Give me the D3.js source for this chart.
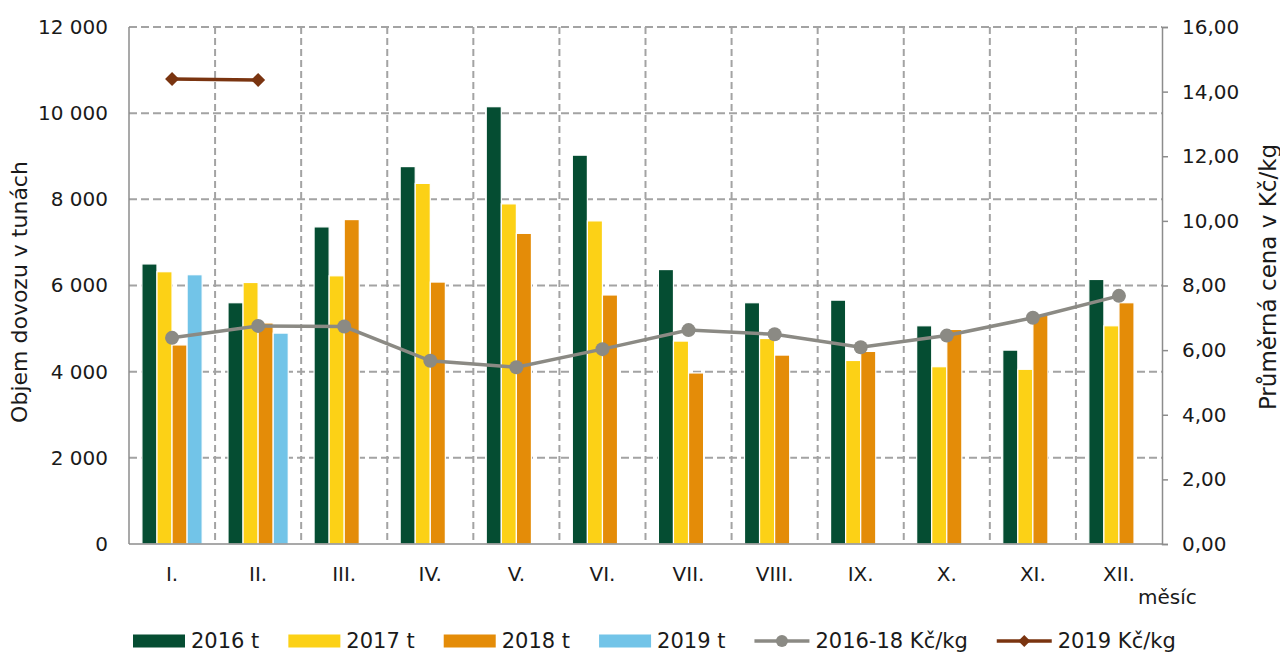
<!DOCTYPE html>
<html>
<head>
<meta charset="utf-8">
<script src="https://cdn.jsdelivr.net/npm/d3@7"></script>
<style>
  html, body { margin: 0; padding: 0; background: #fff; }
  svg { display: block; font-family: "DejaVu Sans", Verdana, sans-serif; }
</style>
</head>
<body>
<svg id="chart" width="1280" height="653"></svg>
<script>
// --- data ---
const months = ["I.", "II.", "III.", "IV.", "V.", "VI.", "VII.", "VIII.", "IX.", "X.", "XI.", "XII."];
const seriesNames = ["2016 t", "2017 t", "2018 t", "2019 t"];
const t2016 = [6500, 5600, 7360, 8760, 10150, 9025, 6370, 5600, 5660, 5065, 4500, 6140];
const t2017 = [6320, 6070, 6225, 8370, 7895, 7500, 4710, 4770, 4260, 4115, 4055, 5065];
const t2018 = [4620, 5130, 7530, 6080, 7210, 5780, 3970, 4385, 4470, 4980, 5310, 5600];
const t2019 = [6250, 4895, null, null, null, null, null, null, null, null, null, null];
const price1618 = [6.38, 6.75, 6.73, 5.67, 5.47, 6.03, 6.62, 6.49, 6.09, 6.45, 7.00, 7.68];
const price2019 = [14.39, 14.36];
const leftTicks = [0, 2000, 4000, 6000, 8000, 10000, 12000];
const rightTicks = [0, 2, 4, 6, 8, 10, 12, 14, 16];

// --- look ---
const colors = { "2016 t": "#054d32", "2017 t": "#fcd116", "2018 t": "#e48c08", "2019 t": "#72c4e8" };
const greyLine = "#8b8a84";
const brownLine = "#7a3410";
const gridColor = "#a3a3a3";
const axisColor = "#8c8c8c";
const textColor = "#1a1a1a";

const plot = { left: 129, right: 1162, top: 27, bottom: 544 };

const svg = d3.select("#chart");

const csLocale = d3.formatLocale({ decimal: ",", thousands: "\u00a0", grouping: [3], currency: ["", ""] });
const fmtLeft = csLocale.format(",.0f");
const fmtRight = csLocale.format(".2f");

// --- scales ---
const x0 = d3.scaleBand()
    .domain(months)
    .range([plot.left, plot.right])
    .paddingInner(0.3)
    .paddingOuter(0.15);

const x1 = d3.scaleBand()
    .domain(seriesNames)
    .range([0, x0.bandwidth()]);

const yL = d3.scaleLinear().domain([0, 12000]).range([plot.bottom, plot.top]);
const yR = d3.scaleLinear().domain([0, 16]).range([plot.bottom, plot.top]);

const step = x0.step();
const boundary = i => plot.left + i * step;

// --- grid ---
const grid = svg.append("g").attr("class", "grid");

grid.selectAll(".hgrid")
    .data(leftTicks.filter(d => d > 0))
    .enter()
    .append("line")
    .attr("x1", plot.left).attr("x2", plot.right)
    .attr("y1", d => yL(d)).attr("y2", d => yL(d))
    .attr("stroke", gridColor)
    .attr("stroke-width", 2)
    .attr("stroke-dasharray", "8,4");

grid.selectAll(".vgrid")
    .data(d3.range(1, months.length))
    .enter()
    .append("line")
    .attr("x1", i => boundary(i)).attr("x2", i => boundary(i))
    .attr("y1", plot.top).attr("y2", plot.bottom)
    .attr("stroke", gridColor)
    .attr("stroke-width", 2)
    .attr("stroke-dasharray", "7,4");

// --- bars ---
const rows = months.map((m, i) => ({
    month: m,
    values: [t2016[i], t2017[i], t2018[i], t2019[i]]
}));

const groups = svg.append("g").attr("class", "bars")
    .selectAll("g")
    .data(rows)
    .enter()
    .append("g")
    .attr("transform", d => `translate(${x0(d.month)},0)`);

groups.selectAll("rect")
    .data(d => d.values.map((v, k) => ({ key: seriesNames[k], value: v })).filter(d => d.value != null))
    .enter()
    .append("rect")
    .attr("x", d => x1(d.key))
    .attr("y", d => yL(d.value))
    .attr("width", x1.bandwidth())
    .attr("height", d => plot.bottom - yL(d.value))
    .attr("fill", d => colors[d.key])
    .attr("stroke", "#fff")
    .attr("stroke-width", 1.2);

// --- axes lines ---
const axes = svg.append("g").attr("class", "axes");

axes.append("line")
    .attr("x1", plot.left).attr("x2", plot.left)
    .attr("y1", plot.top).attr("y2", plot.bottom)
    .attr("stroke", axisColor).attr("stroke-width", 1.5);

axes.append("line")
    .attr("x1", plot.left).attr("x2", plot.right)
    .attr("y1", plot.bottom).attr("y2", plot.bottom)
    .attr("stroke", axisColor).attr("stroke-width", 1.5);

// right axis with outward ticks
const rightAxis = svg.append("g")
    .attr("transform", `translate(${plot.right},0)`)
    .call(d3.axisRight(yR).tickValues(rightTicks).tickFormat(fmtRight).tickSize(6).tickPadding(14));
rightAxis.select(".domain").attr("stroke", axisColor).attr("stroke-width", 1.5);
rightAxis.selectAll(".tick line").attr("stroke", axisColor).attr("stroke-width", 1.5);
rightAxis.selectAll(".tick text")
    .attr("fill", textColor)
    .style("font-size", "20px")
    .style("font-family", "'DejaVu Sans', Verdana, sans-serif");

// left tick labels
const leftAxis = svg.append("g")
    .attr("transform", `translate(${plot.left},0)`)
    .call(d3.axisLeft(yL).tickValues(leftTicks).tickFormat(fmtLeft).tickSize(0).tickPadding(21));
leftAxis.select(".domain").remove();
leftAxis.selectAll(".tick text")
    .attr("fill", textColor)
    .style("font-size", "20px")
    .style("font-family", "'DejaVu Sans', Verdana, sans-serif");

// month labels
const bottomAxis = svg.append("g")
    .attr("transform", `translate(0,${plot.bottom})`)
    .call(d3.axisBottom(x0).tickSize(0).tickPadding(23));
bottomAxis.select(".domain").remove();
bottomAxis.selectAll(".tick text")
    .attr("fill", textColor)
    .style("font-size", "20px")
    .style("font-family", "'DejaVu Sans', Verdana, sans-serif");

// --- price lines ---
const cx = i => x0(months[i]) + x0.bandwidth() / 2;

const line = d3.line().x((d, i) => cx(i)).y(d => yR(d));

svg.append("path")
    .datum(price1618)
    .attr("d", line)
    .attr("fill", "none")
    .attr("stroke", greyLine)
    .attr("stroke-width", 3.5);

svg.selectAll(".pt1618")
    .data(price1618)
    .enter()
    .append("circle")
    .attr("cx", (d, i) => cx(i))
    .attr("cy", d => yR(d))
    .attr("r", 7)
    .attr("fill", greyLine);

svg.append("path")
    .datum(price2019)
    .attr("d", line)
    .attr("fill", "none")
    .attr("stroke", brownLine)
    .attr("stroke-width", 3.5);

const diamond = (s) => `M0,${-s}L${s},0L0,${s}L${-s},0Z`;

svg.selectAll(".pt2019")
    .data(price2019)
    .enter()
    .append("path")
    .attr("transform", (d, i) => `translate(${cx(i)},${yR(d)})`)
    .attr("d", diamond(7))
    .attr("fill", brownLine);

// --- axis titles ---
svg.append("text")
    .attr("transform", "translate(27,292) rotate(-90)")
    .attr("text-anchor", "middle")
    .attr("fill", textColor)
    .style("font-size", "22px")
    .text("Objem dovozu v tunách");

svg.append("text")
    .attr("transform", "translate(1276,277) rotate(-90)")
    .attr("text-anchor", "middle")
    .attr("fill", textColor)
    .style("font-size", "23px")
    .text("Průměrná cena v Kč/kg");

svg.append("text")
    .attr("x", 1138)
    .attr("y", 604)
    .attr("fill", textColor)
    .style("font-size", "20px")
    .text("měsíc");

// --- legend ---
const legendItems = [
    { label: "2016 t", kind: "rect", color: colors["2016 t"] },
    { label: "2017 t", kind: "rect", color: colors["2017 t"] },
    { label: "2018 t", kind: "rect", color: colors["2018 t"] },
    { label: "2019 t", kind: "rect", color: colors["2019 t"] },
    { label: "2016-18 Kč/kg", kind: "circle", color: greyLine },
    { label: "2019 Kč/kg", kind: "diamond", color: brownLine }
];

const legend = svg.append("g").attr("class", "legend");
const legendY = 641;
let lx = 133;

legendItems.forEach(item => {
    const g = legend.append("g").attr("transform", `translate(${lx},${legendY})`);
    let swatchW;
    if (item.kind === "rect") {
        swatchW = 52;
        g.append("rect")
            .attr("x", 0).attr("y", -6.5)
            .attr("width", swatchW).attr("height", 13)
            .attr("fill", item.color);
    } else {
        swatchW = 55;
        g.append("line")
            .attr("x1", 0).attr("x2", swatchW)
            .attr("y1", 0).attr("y2", 0)
            .attr("stroke", item.color).attr("stroke-width", 3.5);
        if (item.kind === "circle") {
            g.append("circle").attr("cx", swatchW / 2).attr("cy", 0).attr("r", 6).attr("fill", item.color);
        } else {
            g.append("path").attr("transform", `translate(${swatchW / 2},0)`).attr("d", diamond(6)).attr("fill", item.color);
        }
    }
    const t = g.append("text")
        .attr("x", swatchW + 6)
        .attr("y", 7)
        .attr("fill", textColor)
        .style("font-size", "21px")
        .text(item.label);
    lx += swatchW + 6 + t.node().getComputedTextLength() + 29;
});
</script>
</body>
</html>
